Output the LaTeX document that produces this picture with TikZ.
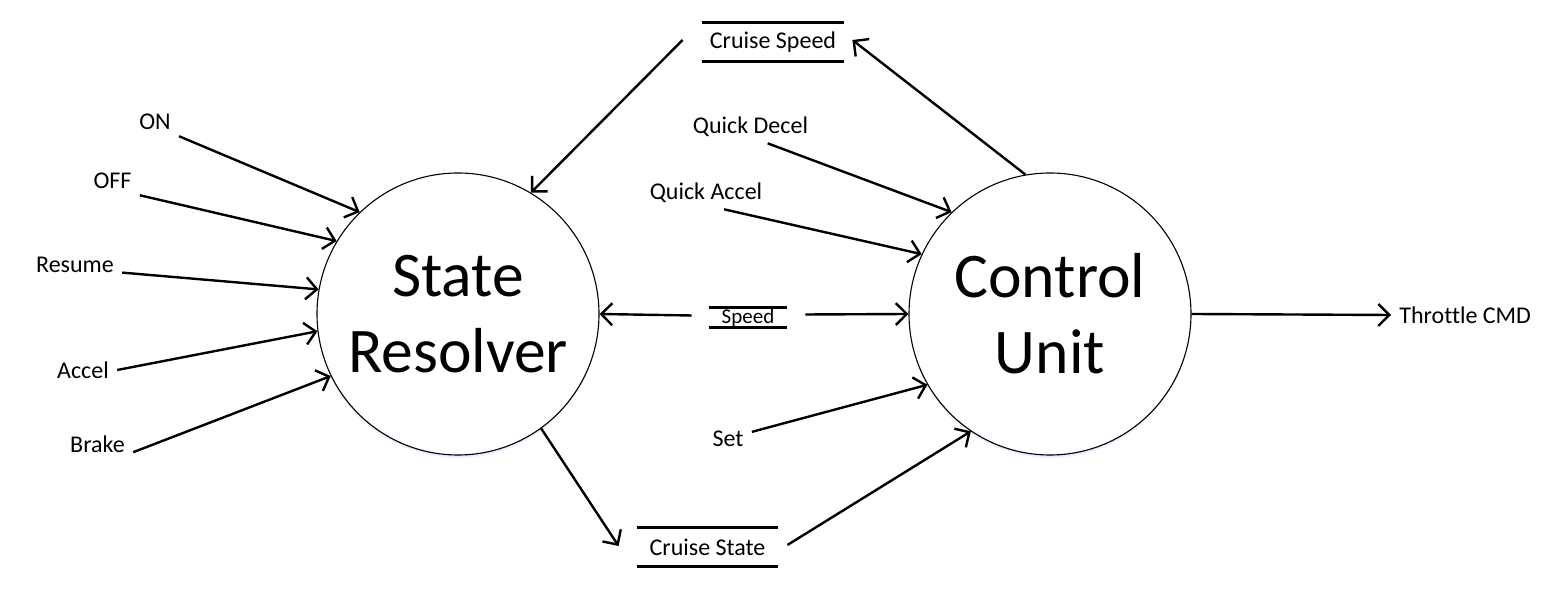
\documentclass[tikz,border=0pt]{standalone}
\usepackage{fontspec}
\setmainfont{Carlito}[Ligatures=NoCommon]
\usepackage{tikz}
\usetikzlibrary{calc,arrows.meta,positioning}
\colorlet{glowC}{blue!35}

\begin{document}
\begin{tikzpicture}[x=0.5pt,y=-0.5pt,
    proc/.style={circle, draw, line width=0.55pt, fill=white, minimum size=141pt,
      inner sep=0pt, align=center, font=\fontsize{31.8}{38}\selectfont},
    lbl/.style={font=\fontsize{12}{14}\selectfont, inner xsep=4pt, inner ysep=3pt},
    store/.style={inner sep=0pt, font=\fontsize{12}{14}\selectfont},
    storeline/.style={line width=1.2pt},
    flow/.style={line width=1.2pt, -{Straight Barb[length=5.5pt,width=11pt]}}]
  \useasboundingbox (0,0) rectangle (1548,613);

  % centres of the two processes
  \coordinate (srC) at (458,314);
  \coordinate (cuC) at (1050,314);

  % faint glow under the circles
  \foreach \c in {srC,cuC} {
    \foreach \d in {1,2,3} {
      \fill[glowC, opacity=0.12] ($(\c)+(0,\d)$) circle[radius=141];
    }
  }

  % processes
  \node[proc] (sr) at (srC) {State\\Resolver};
  \node[proc] (cu) at (cuC) {Control\\Unit};

  % data stores
  \node[store, minimum width=71pt, minimum height=19pt] (cspd) at (773,42) {Cruise Speed};
  \node[store, minimum width=70.5pt, minimum height=19pt] (cstate) at (707.5,547) {Cruise State};
  \node[store, minimum width=39pt, minimum height=9.5pt, font=\fontsize{10.5}{12}\selectfont] (spd) at (748,317.5) {Speed};
  \foreach \s in {cspd,cstate,spd} {
    \draw[storeline] (\s.north west) -- (\s.north east) (\s.south west) -- (\s.south east);
  }

  % inputs of the state resolver
  \node[lbl] (on) at (155,122) {ON};
  \node[lbl] (off) at (112.5,181) {OFF};
  \node[lbl] (res) at (75,265) {Resume};
  \node[lbl] (acc) at (83,370) {Accel};
  \node[lbl] (brk) at (97.5,444) {Brake};

  \draw[flow] (on.south east) -- (sr.134.7);
  \draw[flow] (off.south east) -- (sr.149.4);
  \draw[flow] (res.base east) -- (sr.170.5);
  \draw[flow] (acc.east) -- (sr.187.8);
  \draw[flow] (brk.base east) -- (sr.206.4);

  % inputs of the control unit
  \node[lbl] (qdec) at (750.5,127) {Quick Decel};
  \node[lbl] (qacc) at (706,193) {Quick Accel};
  \node[lbl] (set) at (728,439) {Set};

  \draw[flow] ($(qdec.south west)!0.63!(qdec.south east)$) -- (cu.134.3);
  \draw[flow] ($(qacc.south west)!0.64!(qacc.south east)$) -- (cu.155.8);
  \draw[flow] ($(set.east)!0.5!(set.north east)$) -- (cu.210.5);

  % output
  \node[lbl, anchor=west] (thr) at (1391,315) {Throttle CMD};
  \draw[flow] (cu.east) -- (thr.west);

  % flows through the stores
  \draw[flow] (cu.100) -- ($(cspd.east)+(8,-2)$);
  \draw[flow] ($(cspd.west)+(-19,-2)$) -- (sr.59.4);
  \draw[flow] ($(spd.west)+(-17,-2)$) -- (sr.east);
  \draw[flow] ($(spd.east)+(18,-3)$) -- (cu.west);
  \draw[flow] (sr.-54.7) -- ($(cstate.west)+(-18,-1)$);
  \draw[flow] ($(cstate.east)+(9,-2)$) -- (cu.236.9);
\end{tikzpicture}
\end{document}
